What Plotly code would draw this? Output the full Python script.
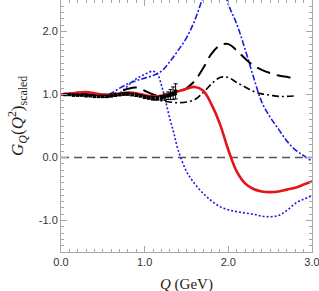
import plotly.graph_objects as go

# ---- data ----
q_red = [0, 0.1, 0.2, 0.3, 0.4, 0.5, 0.6, 0.7, 0.8, 0.9, 1.0, 1.1, 1.2, 1.3, 1.4, 1.5, 1.6, 1.7, 1.8, 1.9,
         2.0, 2.1, 2.2, 2.3, 2.4, 2.5, 2.6, 2.7, 2.8, 2.9, 3.0]
g_red = [1.00, 1.01, 1.03, 1.04, 1.02, 1.00, 0.99, 1.01, 1.03, 1.02, 0.99, 0.97, 0.98, 1.01, 1.05, 1.09,
         1.12, 1.06, 0.84, 0.53, 0.12, -0.22, -0.41, -0.50, -0.54, -0.55, -0.54, -0.51, -0.48, -0.43, -0.38]

q_dash = [0, 0.2, 0.4, 0.6, 0.7, 0.8, 0.9, 1.0, 1.1, 1.2, 1.3, 1.4, 1.5, 1.6, 1.7, 1.8, 1.9, 2.0, 2.1,
          2.2, 2.3, 2.4, 2.5, 2.6, 2.7, 2.75, 2.82]
g_dash = [1.00, 1.02, 1.00, 1.00, 1.04, 1.09, 1.11, 1.06, 1.00, 0.97, 0.98, 1.02, 1.10, 1.22, 1.42, 1.65,
          1.78, 1.80, 1.70, 1.57, 1.46, 1.39, 1.34, 1.30, 1.28, 1.27, 1.31]

q_dd = [0, 0.2, 0.4, 0.6, 0.8, 0.9, 1.0, 1.1, 1.2, 1.3, 1.4, 1.5, 1.6, 1.7, 1.8, 1.9, 2.0, 2.1, 2.2, 2.3,
        2.4, 2.5, 2.6, 2.7, 2.82]
g_dd = [1.00, 1.00, 0.99, 0.99, 1.00, 1.00, 0.97, 0.93, 0.90, 0.88, 0.87, 0.88, 0.92, 1.03, 1.17, 1.27,
        1.27, 1.19, 1.12, 1.05, 1.01, 0.99, 0.97, 0.97, 0.98]

q_bdd = [0, 0.2, 0.4, 0.5, 0.6, 0.7, 0.8, 0.9, 1.0, 1.1, 1.2, 1.3, 1.4, 1.5, 1.6, 1.7, 1.8, 1.9, 2.0,
         2.1, 2.2, 2.3, 2.4, 2.5, 2.6, 2.7, 2.8, 2.9, 3.0]
g_bdd = [1.00, 1.00, 0.98, 0.98, 1.02, 1.10, 1.17, 1.22, 1.26, 1.30, 1.37, 1.52, 1.70, 1.90, 2.18, 2.55,
         2.85, 2.85, 2.43, 2.12, 1.72, 1.28, 0.88, 0.64, 0.45, 0.26, 0.12, 0.03, -0.06]

q_bdot = [0, 0.2, 0.4, 0.5, 0.6, 0.7, 0.8, 0.9, 1.0, 1.1, 1.15, 1.2, 1.25, 1.3, 1.35, 1.4, 1.5, 1.6, 1.7,
          1.8, 1.9, 2.0, 2.1, 2.2, 2.3, 2.4, 2.5, 2.6, 2.7, 2.8, 2.9, 3.0]
g_bdot = [1.00, 0.99, 0.97, 0.96, 0.97, 1.02, 1.14, 1.25, 1.32, 1.37, 1.33, 1.15, 0.90, 0.62, 0.38, 0.12,
          -0.22, -0.42, -0.57, -0.69, -0.78, -0.83, -0.86, -0.88, -0.90, -0.93, -0.94, -0.92, -0.84, -0.73,
          -0.66, -0.61]

q_zero = [0, 3.0]
g_zero = [0, 0]

q_data = [0.05, 0.10, 0.15, 0.20, 0.25, 0.30, 0.35, 0.40, 0.45, 0.50, 0.55, 0.60, 0.65, 0.70, 0.75,
          0.80, 0.85, 0.90, 0.95, 1.00, 1.05, 1.10, 1.15, 1.20, 1.24, 1.28, 1.31, 1.34, 1.37]
g_data = [1.00, 1.00, 0.99, 0.99, 0.99, 0.98, 0.98, 0.97, 0.97, 0.97, 0.97, 0.98, 0.99, 1.00, 1.01,
          1.01, 1.00, 0.99, 0.98, 0.96, 0.95, 0.94, 0.94, 0.95, 0.96, 0.98, 1.00, 1.02, 1.05]
e_data = [0.01, 0.01, 0.01, 0.01, 0.01, 0.01, 0.01, 0.015, 0.015, 0.015, 0.015, 0.015, 0.015, 0.02,
          0.02, 0.02, 0.02, 0.02, 0.02, 0.025, 0.025, 0.03, 0.03, 0.035, 0.05, 0.06, 0.08, 0.10, 0.12]

x_tickvals = [0, 1.0, 2.0, 3.0]
x_ticktext = ["0.0", "1.0", "2.0", "3.0"]
y_tickvals = [-1.0, 0.0, 1.0, 2.0]
y_ticktext = ["-1.0", "0.0", "1.0", "2.0"]

RED = "#e3151b"
BLUE = "#1c1ce0"

fig = go.Figure()
fig.add_trace(go.Scatter(x=q_zero, y=g_zero, mode="lines",
                         line=dict(color="#555555", width=1.6, dash="8px,5px")))
fig.add_trace(go.Scatter(x=q_bdot, y=g_bdot, mode="lines", line_shape="spline",
                         line=dict(color=BLUE, width=1.6, dash="2px,2px")))
fig.add_trace(go.Scatter(x=q_bdd, y=g_bdd, mode="lines", line_shape="spline",
                         line=dict(color=BLUE, width=1.6, dash="6px,2px,2px,2px")))
fig.add_trace(go.Scatter(x=q_dd, y=g_dd, mode="lines", line_shape="spline",
                         line=dict(color="black", width=1.6, dash="7px,3px,2px,3px")))
fig.add_trace(go.Scatter(x=q_dash, y=g_dash, mode="lines", line_shape="spline",
                         line=dict(color="black", width=2, dash="14px,7px")))
fig.add_trace(go.Scatter(x=q_red, y=g_red, mode="lines", line_shape="spline",
                         line=dict(color=RED, width=2.6)))
fig.add_trace(go.Scatter(x=q_data, y=g_data, mode="markers",
                         marker=dict(symbol="square", size=3.5, color="black"),
                         error_y=dict(type="data", array=e_data, color="black", thickness=1, width=2)))

axis_common = dict(showline=True, linecolor="#a8a8a8", linewidth=1, mirror="ticks",
                   ticks="inside", ticklen=6, tickcolor="#a8a8a8", tickwidth=1,
                   showgrid=False, zeroline=False, ticklabeloverflow="allow",
                   tickfont=dict(family="Liberation Sans, Arial", size=11, color="#333333"))

minor_common = dict(ticks="inside", tickmode="linear", tick0=0, dtick=0.1, ticklen=3,
                    tickcolor="#a8a8a8", showgrid=False)

fig.update_xaxes(range=[0, 3.0], tickmode="array", tickvals=x_tickvals, ticktext=x_ticktext,
                 minor=minor_common, **axis_common)
fig.update_yaxes(range=[-1.5, 2.5], tickmode="array", tickvals=y_tickvals, ticktext=y_ticktext,
                 minor=minor_common, **axis_common)

fig.add_annotation(xref="paper", yref="paper", x=0, y=0.54, xshift=-43, xanchor="center",
                   yanchor="middle", textangle=-90, showarrow=False,
                   text="<i>G</i><sub><i>Q</i></sub>(<i>Q</i><sup>2</sup>)<sub>scaled</sub>",
                   font=dict(family="Liberation Serif, Times New Roman", size=17, color="#222222"))
fig.add_annotation(xref="paper", yref="paper", x=0.5, y=0, yshift=-32, xanchor="center",
                   yanchor="middle", showarrow=False,
                   text="<i>Q</i> (GeV)",
                   font=dict(family="Liberation Serif, Times New Roman", size=15, color="#222222"))

fig.update_layout(width=319, height=291, margin=dict(l=61, r=7, t=0, b=39),
                  plot_bgcolor="white", paper_bgcolor="white", showlegend=False)

fig.write_html("out.html", config={"displayModeBar": False},
               post_script="document.body.style.margin='0px';document.body.style.overflow='hidden';")
